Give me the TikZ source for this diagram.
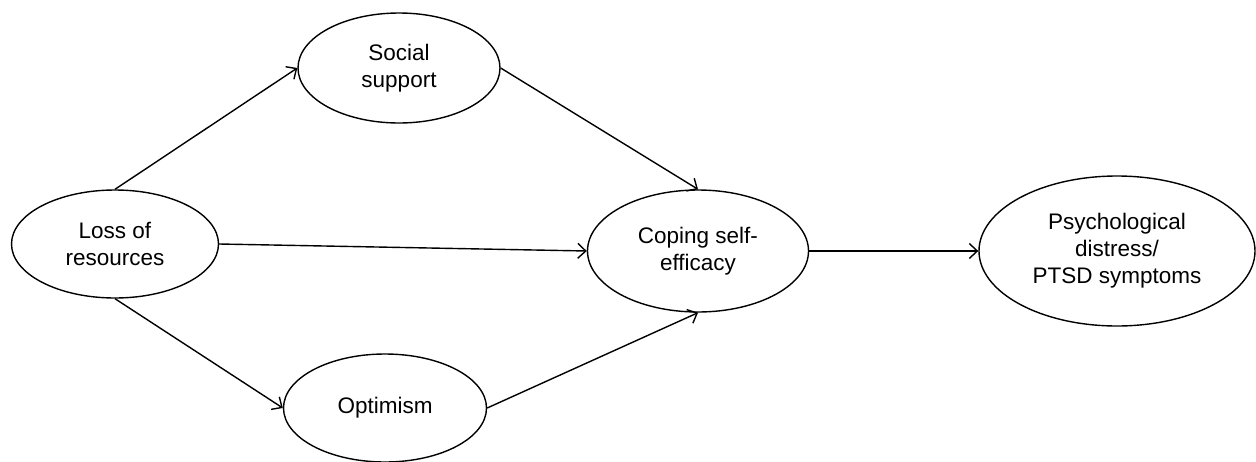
\documentclass[tikz,border=0pt]{standalone}
\usepackage{fontspec}
\setmainfont{Liberation Sans}
\usetikzlibrary{shapes.geometric,arrows.meta}
\begin{document}
\begin{tikzpicture}[x=1pt,y=-1pt,
  oval/.style={draw, ellipse, line width=1.4pt, inner sep=0pt, align=center,
    font=\fontsize{22.5}{27}\selectfont, fill=white},
  link/.style={line width=1.4pt, -{Straight Barb[length=8pt,width=15pt,line width=1.4pt]}}]
\useasboundingbox (0,0) rectangle (1256,461);
\node[oval, minimum width=207pt, minimum height=108pt] (loss) at (115,244) {Loss of\\resources};
\node[oval, minimum width=202pt, minimum height=110pt] (soc) at (399,68) {Social\\support};
\node[oval, minimum width=221pt, minimum height=122pt] (cop) at (698,251) {Coping self-\\efficacy};
\node[oval, minimum width=203pt, minimum height=108pt] (opt) at (385,408) {Optimism};
\node[oval, minimum width=276pt, minimum height=150pt] (psy) at (1117,251) {Psychological\\distress/\\PTSD symptoms};
\draw[link] (loss.north) -- (soc.west);
\draw[link] (loss.south) -- (opt.west);
\draw[link] (loss.east) -- (cop.west);
\draw[link] (soc.east) -- (cop.north);
\draw[link] (opt.east) -- (cop.south);
\draw[link] (cop.east) -- (psy.west);
\end{tikzpicture}
\end{document}
